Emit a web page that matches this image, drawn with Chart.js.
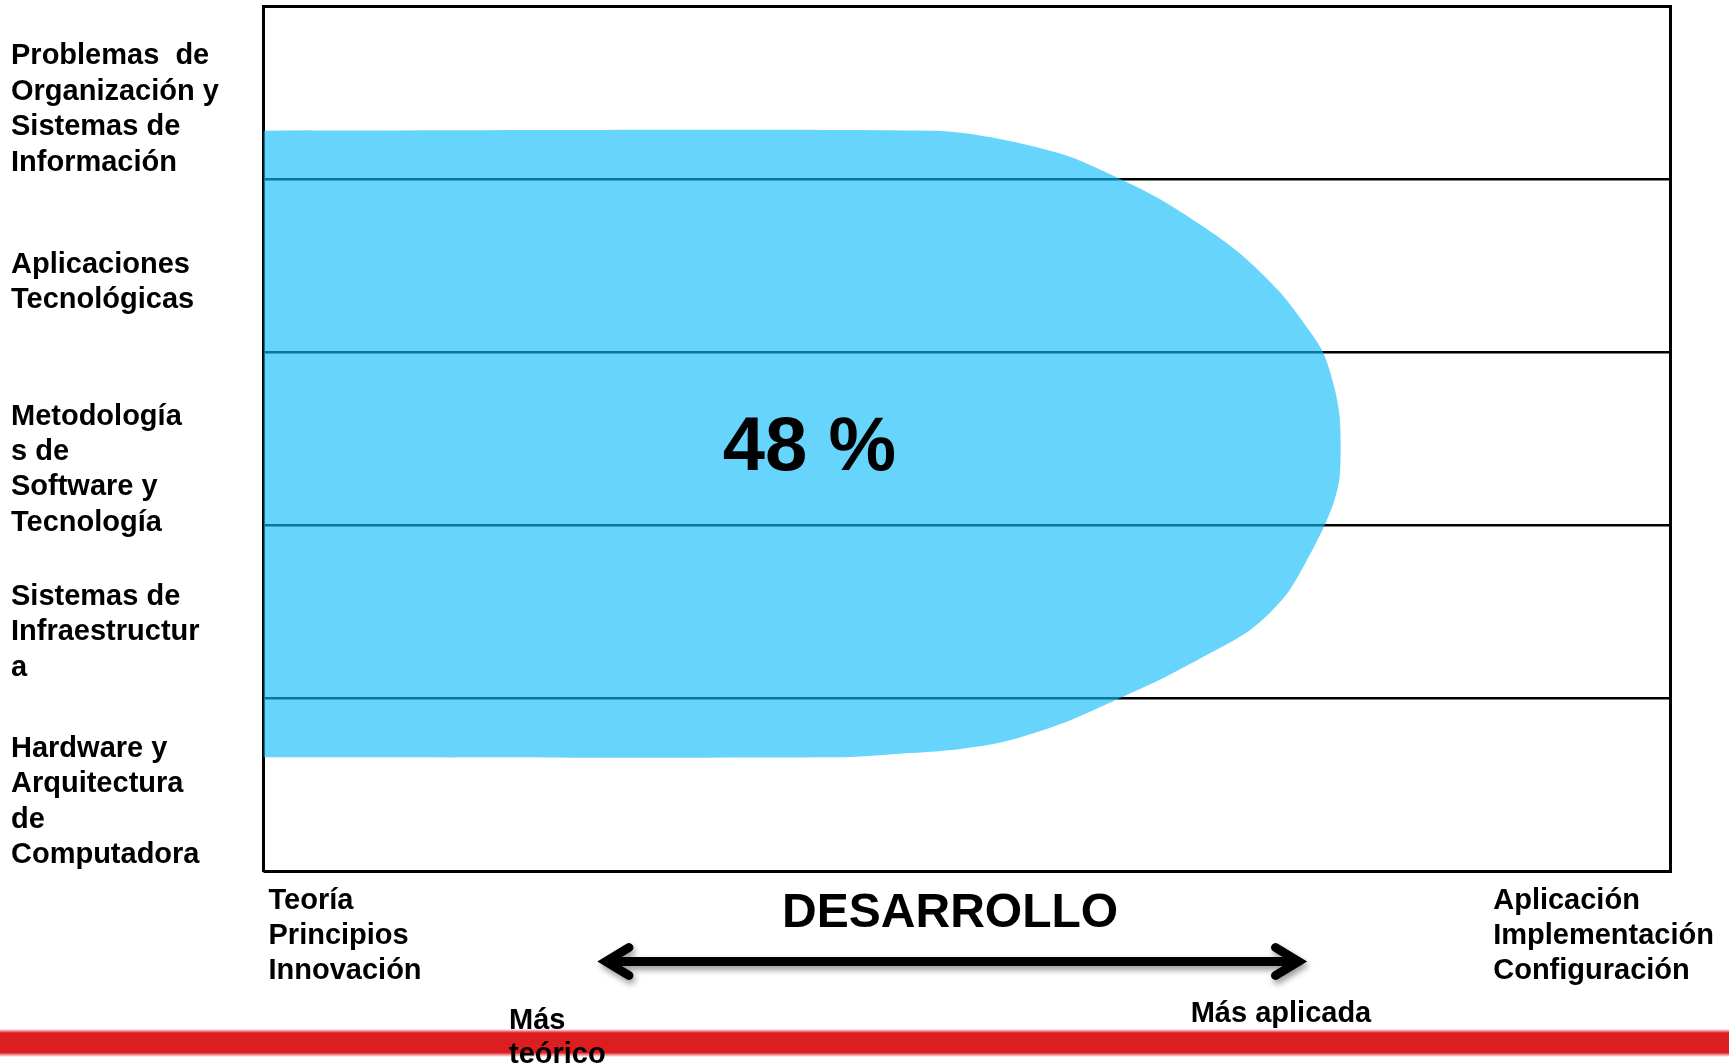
<!DOCTYPE html>
<html lang="es">
<head>
<meta charset="utf-8">
<title>Desarrollo</title>
<script src="https://cdn.jsdelivr.net/npm/chart.js@4.4.1/dist/chart.umd.min.js"></script>
<style>
    html, body { margin: 0; padding: 0; background: #fff; }
    #wrap { position: relative; width: 1729px; height: 1064px; }
</style>
</head>
<body>
<div id="wrap"><canvas id="chart"></canvas></div>
<script>
// research areas, top to bottom
const areas = [
    ['Problemas  de', 'Organización y', 'Sistemas de', 'Información'],
    ['Aplicaciones', 'Tecnológicas'],
    ['Metodología', 's de', 'Software y', 'Tecnología'],
    ['Sistemas de', 'Infraestructur', 'a'],
    ['Hardware y', 'Arquitectura', 'de', 'Computadora'],
];

// band boundaries on the area axis (0 = top edge of the first area)
const bandEdges = [0, 1, 2, 3, 4, 5];

// outline of the development region, clockwise from the top left corner:
// x = theory (0) -> application (100), y = area axis
const regionX = [0, 47.7, 51.8, 56.9, 60.4, 63.6, 66.7, 69.4, 72.2, 74.1, 75.3, 76.1, 76.5, 76.5,
                 76.1, 75.3, 74.1, 72.6, 70.2, 66.8, 64.0, 60.8, 56.9, 52.6, 48.7, 45.2, 41.2, 0];
const regionY = [0.72, 0.72, 0.76, 0.86, 0.98, 1.11, 1.27, 1.43, 1.65, 1.85, 2.00, 2.20, 2.39, 2.71,
                 2.86, 3.02, 3.21, 3.41, 3.60, 3.76, 3.88, 4.00, 4.14, 4.25, 4.30, 4.32, 4.34, 4.34];

const sharePct = 48;

const theoryLabels = ['Teoría', 'Principios', 'Innovación'];
const practiceLabels = ['Aplicación', 'Implementación', 'Configuración'];
const axisTitle = 'DESARROLLO';
const theoryEnd = ['Más', 'teórico'];
const practiceEnd = 'Más aplicada';

const FONT = '"Liberation Sans", Arial, sans-serif';
Chart.defaults.font.family = FONT;

const regionPoints = regionX.map((x, i) => ({x: x, y: regionY[i]}));

// big percentage inside the region
const shareLabel = {
    id: 'shareLabel',
    afterDatasetsDraw(chart) {
        const {ctx, scales: {x, y}} = chart;
        ctx.save();
        ctx.fillStyle = '#000';
        ctx.font = 'bold 76px ' + FONT;
        ctx.textAlign = 'center';
        ctx.textBaseline = 'middle';
        ctx.fillText(sharePct + ' %', x.getPixelForValue(38.8), y.getPixelForValue(2.56));
        ctx.restore();
    }
};

// everything under the box: end labels, title, arrow, red band
const bottomNotes = {
    id: 'bottomNotes',
    afterDraw(chart) {
        const {ctx, chartArea, scales: {x}} = chart;
        const base = chartArea.bottom;
        const W = chart.width;

        ctx.save();

        // red band
        const g = ctx.createLinearGradient(0, 1029, 0, 1057);
        g.addColorStop(0, 'rgba(221,30,32,0)');
        g.addColorStop(0.14, 'rgba(221,30,32,1)');
        g.addColorStop(0.84, 'rgba(221,30,32,1)');
        g.addColorStop(1, 'rgba(221,30,32,0)');
        ctx.fillStyle = g;
        ctx.fillRect(0, 1029, W, 28);

        ctx.fillStyle = '#000';
        ctx.textBaseline = 'middle';
        ctx.textAlign = 'left';
        ctx.font = 'bold 29px ' + FONT;

        theoryLabels.forEach((t, i) => {
            ctx.fillText(t, chartArea.left + 5, base + 29 + i * 35.3);
        });
        practiceLabels.forEach((t, i) => {
            ctx.fillText(t, x.getPixelForValue(87.4), base + 29 + i * 35.3);
        });

        ctx.fillText(practiceEnd, x.getPixelForValue(65.9), base + 142.5);
        theoryEnd.forEach((t, i) => {
            ctx.fillText(t, x.getPixelForValue(17.45), base + 149 + i * 34.5);
        });

        ctx.font = 'bold 48px ' + FONT;
        ctx.textAlign = 'center';
        ctx.fillText(axisTitle, x.getPixelForValue(48.8), base + 42);

        // double-headed arrow with a soft shadow
        const x0 = x.getPixelForValue(23.7);
        const x1 = x.getPixelForValue(74.2);
        const ya = base + 90;
        ctx.shadowColor = 'rgba(0,0,0,0.4)';
        ctx.shadowBlur = 6;
        ctx.shadowOffsetX = 2;
        ctx.shadowOffsetY = 4;
        ctx.strokeStyle = '#000';
        ctx.lineWidth = 9;
        ctx.lineCap = 'round';
        ctx.lineJoin = 'miter';
        ctx.beginPath();
        ctx.moveTo(x0 + 10, ya);
        ctx.lineTo(x1 - 10, ya);
        ctx.moveTo(x0 + 32, ya - 14);
        ctx.lineTo(x0 + 9, ya);
        ctx.lineTo(x0 + 32, ya + 14);
        ctx.moveTo(x1 - 32, ya - 14);
        ctx.lineTo(x1 - 9, ya);
        ctx.lineTo(x1 - 32, ya + 14);
        ctx.stroke();

        ctx.restore();
    }
};

new Chart(document.getElementById('chart'), {
    type: 'scatter',
    data: {
        datasets: [{
            data: regionPoints,
            showLine: true,
            fill: 'shape',
            backgroundColor: 'rgba(15,187,250,0.63)',
            borderWidth: 0,
            pointRadius: 0,
            tension: 0.3,
            yAxisID: 'y',
        }]
    },
    options: {
        responsive: true,
        maintainAspectRatio: false,
        animation: false,
        events: [],
        layout: {
            padding: {left: 11, top: 6, right: 58.5, bottom: 192.5}
        },
        plugins: {
            legend: {display: false},
            tooltip: {enabled: false},
        },
        scales: {
            x: {
                type: 'linear',
                min: 0,
                max: 100,
                display: false,
            },
            y: {
                type: 'linear',
                min: 0,
                max: 5,
                reverse: true,
                position: 'left',
                afterBuildTicks: (scale) => {
                    // one label per band, the four-line methodology block sits a bit lower
                    const nudge = [0, 0, 0.08, 0.02, 0];
                    scale.ticks = areas.map((a, i) => ({value: i + 0.5 + nudge[i]}));
                },
                afterFit: (scale) => {
                    // labels sit inside the bands, so no extra room above or below
                    scale.width = 252.5;
                    scale.paddingTop = 0;
                    scale.paddingBottom = 0;
                },
                grid: {color: 'rgba(0,0,0,0)', drawTicks: false},
                border: {display: true, color: '#000', width: 3},
                ticks: {
                    callback: (v, i) => areas[i],
                    crossAlign: 'far',
                    labelOffset: 17,
                    padding: 0,
                    autoSkip: false,
                    color: '#000',
                    font: {size: 29, weight: 'bold', lineHeight: 1.22},
                },
            },
            yGrid: {
                type: 'linear',
                min: 0,
                max: 5,
                reverse: true,
                position: 'right',
                afterBuildTicks: (scale) => {
                    scale.ticks = bandEdges.map(v => ({value: v}));
                },
                afterFit: (scale) => {
                    scale.width = 0;
                    scale.paddingTop = 0;
                    scale.paddingBottom = 0;
                },
                grid: {
                    color: '#000',
                    lineWidth: (c) => (c.tick && (c.tick.value === 0 || c.tick.value === 5)) ? 3 : 2.4,
                    drawTicks: false,
                },
                border: {display: true, color: '#000', width: 3},
                ticks: {display: false},
            },
        },
    },
    plugins: [shareLabel, bottomNotes],
});
</script>
</body>
</html>
